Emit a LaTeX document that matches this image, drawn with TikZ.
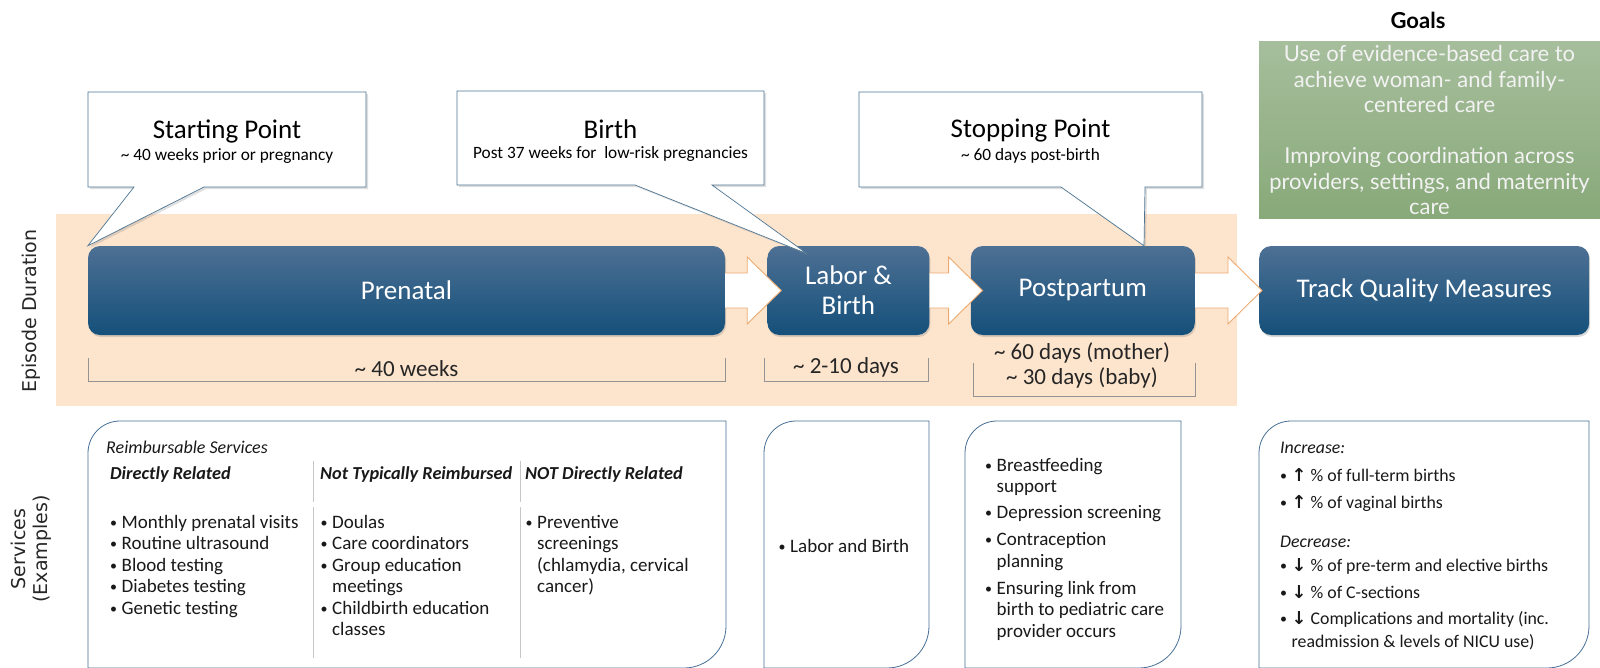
\documentclass[tikz,border=0pt]{standalone}
\usepackage{fontspec}
\setmainfont{Carlito}
\newfontfamily\sidefont{DejaVu Sans}
\newfontfamily\goalfont{Lato}
\usetikzlibrary{positioning,calc,shadows,backgrounds}

\definecolor{peach}{RGB}{253,228,205}
\definecolor{bartop}{RGB}{78,112,148}
\definecolor{barbot}{RGB}{20,80,122}
\definecolor{arredge}{RGB}{236,170,112}
\definecolor{calledge}{RGB}{78,118,148}
\definecolor{boxedge}{RGB}{72,112,150}
\definecolor{goaltop}{RGB}{166,190,156}
\definecolor{goalbot}{RGB}{136,169,121}
\definecolor{darktext}{RGB}{38,38,38}

\tikzset{
  stage/.style={rounded corners=12pt, top color=bartop, bottom color=barbot, text=white, align=center,
    minimum height=89pt, inner sep=0pt, font=\fontsize{27}{30}\selectfont,
    drop shadow={opacity=0.3, shadow xshift=1pt, shadow yshift=-2pt}},
  stagearr/.style={draw=arredge, fill=white, line width=0.9pt},
  callout/.style={draw=calledge, fill=white, line width=0.7pt,
    drop shadow={opacity=0.25, shadow xshift=2pt, shadow yshift=-2pt}},
  calltitle/.style={font=\fontsize{27}{30}\selectfont},
  callsub/.style={font=\fontsize{17.3}{20}\selectfont},
  bracket/.style={draw=gray!85, line width=0.7pt},
  durtext/.style={text=darktext, font=\fontsize{23}{26}\selectfont, align=center},
  servline/.style={draw=boxedge, line width=0.8pt},
  sepline/.style={draw=gray!45, line width=0.7pt},
  svctext/.style={inner sep=0pt, align=left, anchor=north west, text=black!90,
    font=\fontsize{19}{21.4}\selectfont},
  sidelabel/.style={rotate=90, align=center, text=darktext, font=\sidefont\fontsize{19}{22}\selectfont},
  goalbox/.style={top color=goaltop, bottom color=goalbot, text=white!95!black, align=center,
    minimum width=341pt, minimum height=177pt, inner sep=0pt, font=\goalfont\fontsize{22}{25.5}\selectfont},
}

\newcommand\bul{\makebox[11.5pt][l]{\raisebox{1pt}{\fontsize{14}{14}\selectfont\textbullet}}}
\newcommand\ind{\hspace*{11.5pt}}
\newcommand\up{{\sidefont\bfseries ↑}}
\newcommand\down{{\sidefont\bfseries ↓}}

% white stage arrow from one bar onto the next (#3 = how far the tip runs over it)
\newcommand\stagearrow[3]{%
  \draw[stagearr] let \p1=(#1.east), \p2=(#2.west) in
    (\x1,\y1+17.5pt) -- (\x2+#3-34pt,\y1+17.5pt) -- (\x2+#3-34pt,\y1+33.5pt) -- (\x2+#3,\y1)
    -- (\x2+#3-34pt,\y1-33.5pt) -- (\x2+#3-34pt,\y1-17.5pt) -- (\x1,\y1-17.5pt);}

% service box, round corners top left and bottom right
\newcommand\servbox[2]{%
  \draw[servline] (#1,668) -- (#1,453) arc[start angle=180, end angle=90, radius=32pt]
    -- (#2,421) -- (#2,626) arc[start angle=0, end angle=-90, radius=42pt] -- cycle;}

\begin{document}
\begin{tikzpicture}[x=1pt,y=-1pt]
  %%%%% START %%%%%
  \useasboundingbox (0,0) rectangle (1600,667);

  % stages
  \node[stage, minimum width=637pt] (pre) at (406.5,290.5) {Prenatal};
  \node[stage, minimum width=162pt, right=42pt of pre] (lab) {Labor \&\\Birth};
  \node[stage, minimum width=224pt, right=41pt of lab] (pp) {Postpartum};
  \node[stage, minimum width=330pt, right=64pt of pp] (tqm) {Track Quality Measures};

  \begin{scope}[on background layer]
    \fill[white] (0,0) rectangle (1600,667);
    \fill[peach] (56,214) rectangle (1237,406);
  \end{scope}

  \stagearrow{pre}{lab}{14pt}
  \stagearrow{lab}{pp}{12pt}
  \stagearrow{pp}{tqm}{3pt}

  % callouts
  \draw[callout] (88,92) -- (366,92) -- (366,187) -- (204,187) -- (pre.north west)
    -- (134,187) -- (88,187) -- cycle;
  \node[calltitle] (spt) at (227,131) {Starting Point};
  \node[callsub] (sps) at (227,156) {\textasciitilde{} 40 weeks prior or pregnancy};

  \coordinate (birthtip) at ($(lab.north west)+(40,8)$);
  \draw[callout] (457,91) -- (764,91) -- (764,185) -- (712,185) -- (birthtip)
    -- (635,185) -- (457,185) -- cycle;
  \node[calltitle] (bt) at (610.5,129) {Birth};
  \node[callsub] (bs) at (610.5,154) {Post 37 weeks for\ \ low-risk pregnancies};

  \coordinate (stoptip) at ($(pp.north east)+(-51,0)$);
  \draw[callout] (859,92) -- (1202,92) -- (1202,187) -- (1145,187) -- (stoptip)
    -- (1061,187) -- (859,187) -- cycle;
  \node[calltitle] (stt) at (1030.5,131) {Stopping Point};
  \node[callsub] (sts) at (1030.5,156) {\textasciitilde{} 60 days post-birth};

  % goals
  \node[font=\goalfont\bfseries\fontsize{22}{25}\selectfont] (goalhd) at (1418,20) {Goals};
  \node[goalbox] (goals) at (1429.5,130) {Use of evidence-based care to\\achieve woman- and family-\\centered care\\[25.5pt]
    Improving coordination across\\providers, settings, and maternity\\care};

  % durations
  \draw[bracket] (88,358) -- (88,381) -- (725,381) -- (725,358);
  \node[durtext] (wk) at (406.5,369) {\textasciitilde{} 40 weeks};
  \draw[bracket] (764,358) -- (764,381) -- (928,381) -- (928,358);
  \node[durtext] (dy) at (846,367) {\textasciitilde{} 2-10 days};
  \draw[bracket] (973,363) -- (973,396) -- (1195,396) -- (1195,363);
  \node[durtext] (mo) at (1082,353) {\textasciitilde{} 60 days (mother)};
  \node[durtext] (bb) at (1082,378) {\textasciitilde{} 30 days (baby)};

  % side labels
  \node[sidelabel] (epi) at (31,311) {Episode Duration};
  \node[sidelabel] (svc) at (31,549) {Services\\(Examples)};

  % services
  \servbox{88}{726}
  \servbox{764}{929}
  \servbox{965}{1181}
  \servbox{1259}{1589}

  \draw[sepline] (313,461) -- (313,502);
  \draw[sepline] (313,507) -- (313,658);
  \draw[sepline] (520,461) -- (520,502);
  \draw[sepline] (520,507) -- (520,658);

  \node[svctext, font=\itshape\fontsize{18}{20}\selectfont] (reimb) at (106,441) {Reimbursable Services};
  \node[svctext, font=\bfseries\itshape\fontsize{18.3}{21.4}\selectfont] (dirhd) at (110,466) {Directly Related};
  \node[svctext, font=\bfseries\itshape\fontsize{18.3}{21.4}\selectfont] (ntrhd) at (320,466) {Not Typically Reimbursed};
  \node[svctext, font=\bfseries\itshape\fontsize{18.3}{21.4}\selectfont] (ndrhd) at (525,466) {NOT Directly Related};

  \node[svctext] (dir) at (110,515) {\bul Monthly prenatal visits\\\bul Routine ultrasound\\\bul Blood testing\\
    \bul Diabetes testing\\\bul Genetic testing};
  \node[svctext] (ntr) at (320.5,515) {\bul Doulas\\\bul Care coordinators\\\bul Group education\\\ind meetings\\
    \bul Childbirth education\\\ind classes};
  \node[svctext] (ndr) at (525.5,515) {\bul Preventive\\\ind screenings\\\ind (chlamydia, cervical\\\ind cancer)};

  \node[svctext] (lb) at (778.5,539) {\bul Labor and Birth};

  \node[svctext] (post) at (985,458) {\bul Breastfeeding\\\ind support\\[4.6pt]\bul Depression screening\\[5.6pt]
    \bul Contraception\\\ind planning\\[5.6pt]\bul Ensuring link from\\\ind birth to pediatric care\\\ind provider occurs};

  \node[svctext, font=\fontsize{17.8}{21.4}\selectfont] (qm) at (1280,442) {\textit{Increase:}\\[6pt]\bul\up\ \% of full-term births\\[6pt]
    \bul\up\ \% of vaginal births\\[17.6pt]\textit{Decrease:}\\[2.6pt]\bul\down\ \% of pre-term and elective births\\[5.6pt]
    \bul\down\ \% of C-sections\\[4.6pt]\bul\down\ Complications and mortality (inc.\\[1.6pt]\ind readmission \& levels of NICU use)};
  %%%%% END %%%%%
\end{tikzpicture}
\end{document}
